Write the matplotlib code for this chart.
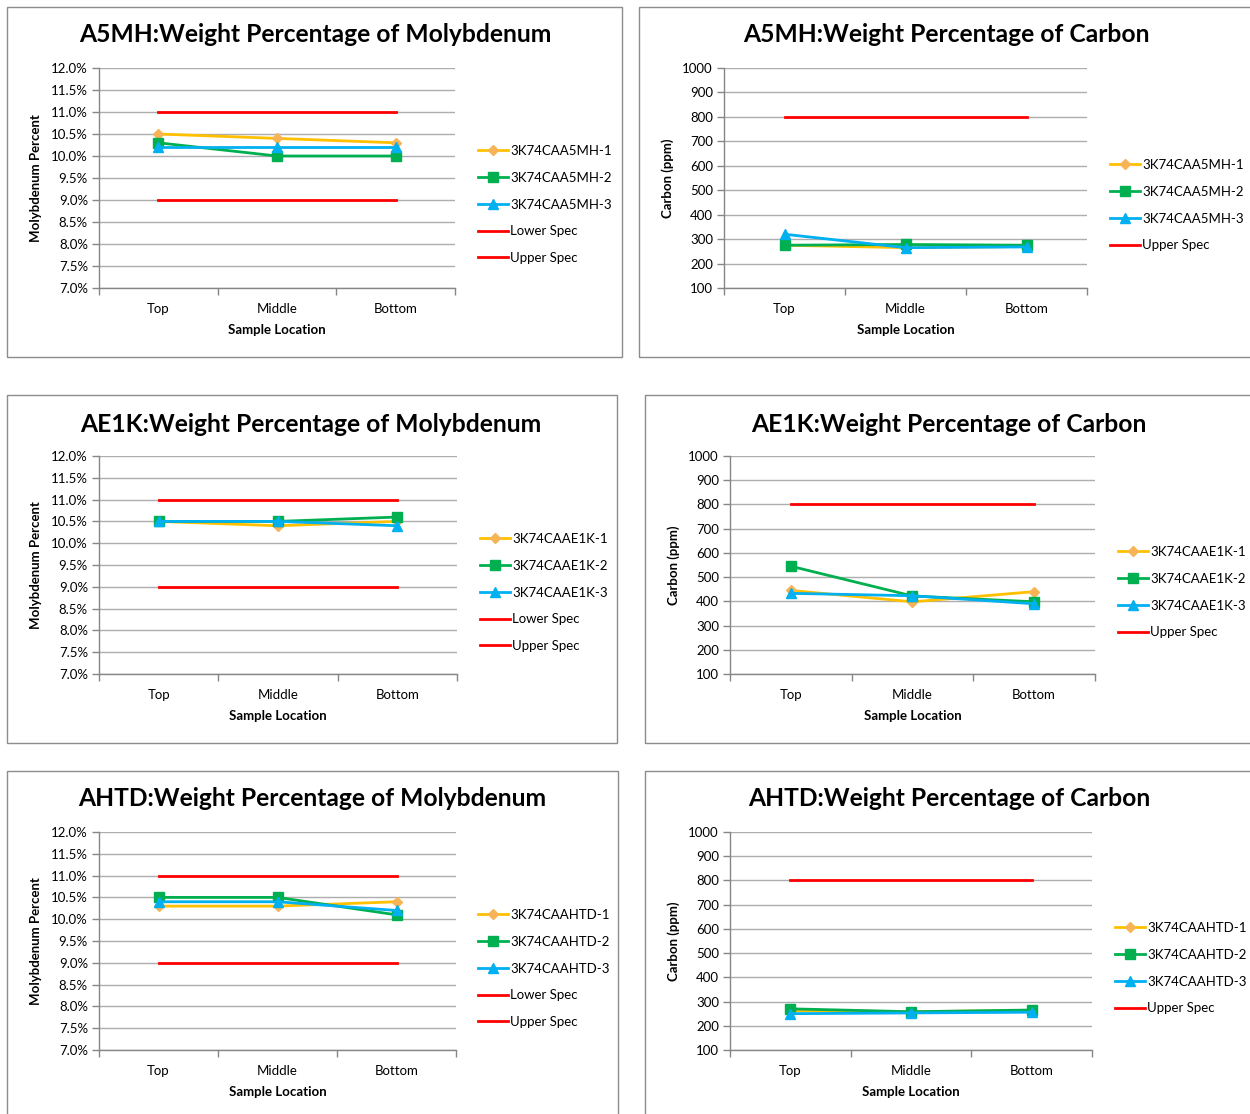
import matplotlib
matplotlib.use("Agg")
import matplotlib.pyplot as plt
from matplotlib.patches import Rectangle
from matplotlib.ticker import FuncFormatter, FixedLocator

plt.rcParams['font.family'] = ['Lato', 'DejaVu Sans']

W, H = 1250, 1114

locations = ["Top", "Middle", "Bottom"]

a5mh_mo_names = ["3K74CAA5MH-1", "3K74CAA5MH-2", "3K74CAA5MH-3"]
a5mh_mo_1 = [10.5, 10.4, 10.3]
a5mh_mo_2 = [10.3, 10.0, 10.0]
a5mh_mo_3 = [10.2, 10.2, 10.2]

a5mh_c_1 = [275, 265, 270]
a5mh_c_2 = [275, 278, 275]
a5mh_c_3 = [320, 265, 268]

ae1k_names = ["3K74CAAE1K-1", "3K74CAAE1K-2", "3K74CAAE1K-3"]
ae1k_mo_1 = [10.5, 10.4, 10.5]
ae1k_mo_2 = [10.5, 10.5, 10.6]
ae1k_mo_3 = [10.5, 10.5, 10.4]

ae1k_c_1 = [445, 398, 440]
ae1k_c_2 = [545, 422, 398]
ae1k_c_3 = [433, 423, 390]

ahtd_names = ["3K74CAAHTD-1", "3K74CAAHTD-2", "3K74CAAHTD-3"]
ahtd_mo_1 = [10.3, 10.3, 10.4]
ahtd_mo_2 = [10.5, 10.5, 10.1]
ahtd_mo_3 = [10.4, 10.4, 10.2]

ahtd_c_1 = [263, 258, 263]
ahtd_c_2 = [270, 258, 265]
ahtd_c_3 = [250, 253, 256]

lower_spec_mo = [9.0, 9.0, 9.0]
upper_spec_mo = [11.0, 11.0, 11.0]
upper_spec_c = [800, 800, 800]

mo_ticks = [7.0, 7.5, 8.0, 8.5, 9.0, 9.5, 10.0, 10.5, 11.0, 11.5, 12.0]
c_ticks = [100, 200, 300, 400, 500, 600, 700, 800, 900, 1000]

COLORS = ["#FFC000", "#00B050", "#00B0F0"]
MFACE = ["#F7B456", "#00B050", "#00B0F0"]
MARKERS = ["D", "s", "^"]
MSIZES = [5.5, 6.5, 7]
RED = "#FF0000"
GRID = "#ADADAD"
SPINE = "#868686"
FS = 9.5

fig = plt.figure(figsize=(W / 100, H / 100), dpi=100)


def rect(x0, y0, x1, y1):
    return [x0 / W, 1 - y1 / H, (x1 - x0) / W, (y1 - y0) / H]


def border(x0, y0, x1, y1):
    fig.patches.append(Rectangle((x0 / W, 1 - y1 / H), (x1 - x0) / W, (y1 - y0) / H,
                                 transform=fig.transFigure, fill=False,
                                 edgecolor="#8C8C8C", linewidth=1.0))


def panel(box, axbox, title, title_xy, ylabel, ylabel_x, series, names, specs,
          ticks, fmt, legend_xy):
    border(*box)
    ax = fig.add_axes(rect(*axbox))
    x = list(range(len(locations)))
    handles = []
    for i, vals in enumerate(series):
        h, = ax.plot(x, vals, color=COLORS[i], lw=2, marker=MARKERS[i],
                     ms=MSIZES[i], mfc=MFACE[i], mec=MFACE[i], label=names[i],
                     zorder=3)
        handles.append(h)
    for lab, vals in specs:
        h, = ax.plot(x, vals, color=RED, lw=2, label=lab, zorder=3)
        handles.append(h)
    ax.set_xlim(-0.5, len(locations) - 0.5)
    ax.set_ylim(ticks[0], ticks[-1])
    ax.yaxis.set_major_locator(FixedLocator(ticks))
    ax.yaxis.set_major_formatter(FuncFormatter(fmt))
    ax.xaxis.set_major_locator(FixedLocator([i - 0.5 for i in range(len(locations) + 1)]))
    ax.xaxis.set_major_formatter(FuncFormatter(lambda v, p: ""))
    ax.xaxis.set_minor_locator(FixedLocator(x))
    ax.set_xticklabels(locations, minor=True)
    ax.tick_params(axis="x", which="major", length=5, direction="out", color=SPINE, width=1)
    ax.tick_params(axis="x", which="minor", length=0, pad=11, labelsize=FS)
    ax.tick_params(axis="y", length=5, direction="out", color=SPINE, width=1,
                   labelsize=FS, pad=3)
    ax.grid(axis="y", color=GRID, lw=1)
    ax.set_axisbelow(True)
    for s in ["top", "right"]:
        ax.spines[s].set_visible(False)
    for s in ["left", "bottom"]:
        ax.spines[s].set_color(SPINE)
        ax.spines[s].set_linewidth(1)
    ax.patch.set_alpha(0)
    fig.text(title_xy[0] / W, 1 - title_xy[1] / H, title, ha="center", va="center",
             fontsize=17.7, fontweight="bold")
    fig.text(ylabel_x / W, 1 - (axbox[1] + axbox[3]) / 2 / H, ylabel, rotation=90,
             ha="center", va="center", fontsize=FS, fontweight="bold")
    fig.text((axbox[0] + axbox[2]) / 2 / W, 1 - (axbox[3] + 42) / H, "Sample Location",
             ha="center", va="center", fontsize=FS, fontweight="bold")
    ax.legend(handles=handles, loc="upper left",
              bbox_to_anchor=(legend_xy[0] / W, 1 - legend_xy[1] / H),
              bbox_transform=fig.transFigure, frameon=False, fontsize=FS,
              handlelength=2.3, handletextpad=0.15, labelspacing=1.12,
              borderaxespad=0, borderpad=0)
    return ax


mo_fmt = lambda v, p: f"{v:.1f}%"
c_fmt = lambda v, p: f"{int(round(v))}"

panel((7, 7, 622, 357), (99, 68, 455, 288), "A5MH:Weight Percentage of Molybdenum",
      (315, 35), "Molybdenum Percent", 36,
      [a5mh_mo_1, a5mh_mo_2, a5mh_mo_3], a5mh_mo_names,
      [("Lower Spec", lower_spec_mo), ("Upper Spec", upper_spec_mo)],
      mo_ticks, mo_fmt, (478, 145))

panel((639, 7, 1262, 357), (724, 68, 1087, 288), "A5MH:Weight Percentage of Carbon",
      (946, 35), "Carbon (ppm)", 668,
      [a5mh_c_1, a5mh_c_2, a5mh_c_3], a5mh_mo_names,
      [("Upper Spec", upper_spec_c)],
      c_ticks, c_fmt, (1110, 159))

panel((7, 395, 617, 743), (99, 456, 457, 674), "AE1K:Weight Percentage of Molybdenum",
      (311, 424), "Molybdenum Percent", 36,
      [ae1k_mo_1, ae1k_mo_2, ae1k_mo_3], ae1k_names,
      [("Lower Spec", lower_spec_mo), ("Upper Spec", upper_spec_mo)],
      mo_ticks, mo_fmt, (480, 533))

panel((645, 395, 1262, 743), (730, 456, 1095, 674), "AE1K:Weight Percentage of Carbon",
      (949, 424), "Carbon (ppm)", 674,
      [ae1k_c_1, ae1k_c_2, ae1k_c_3], ae1k_names,
      [("Upper Spec", upper_spec_c)],
      c_ticks, c_fmt, (1118, 546))

panel((7, 771, 618, 1130), (99, 832, 456, 1050), "AHTD:Weight Percentage of Molybdenum",
      (312, 799), "Molybdenum Percent", 36,
      [ahtd_mo_1, ahtd_mo_2, ahtd_mo_3], ahtd_names,
      [("Lower Spec", lower_spec_mo), ("Upper Spec", upper_spec_mo)],
      mo_ticks, mo_fmt, (478, 909))

panel((645, 771, 1262, 1130), (730, 832, 1092, 1050), "AHTD:Weight Percentage of Carbon",
      (949, 799), "Carbon (ppm)", 674,
      [ahtd_c_1, ahtd_c_2, ahtd_c_3], ahtd_names,
      [("Upper Spec", upper_spec_c)],
      c_ticks, c_fmt, (1115, 922))

fig.savefig("out.png", dpi=100)
